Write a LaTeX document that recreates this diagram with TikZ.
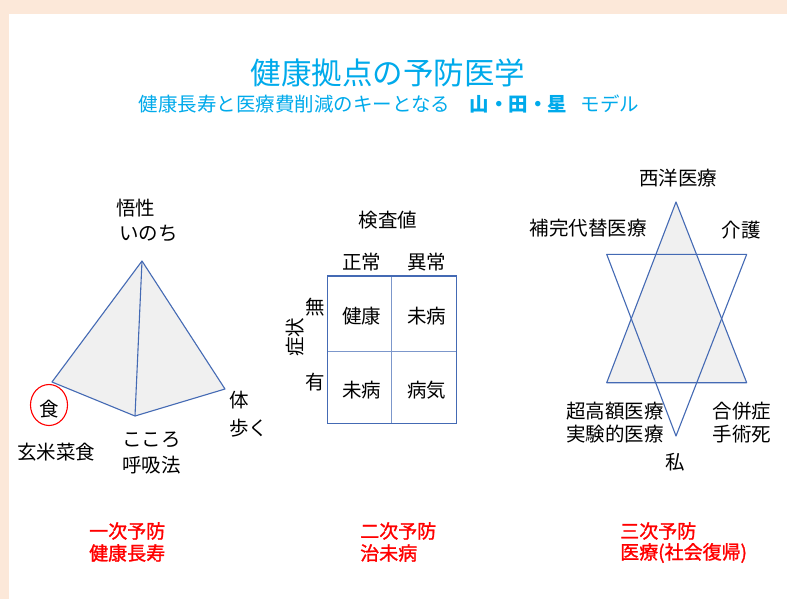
\documentclass[tikz,border=0pt]{standalone}
\usepackage{fontspec}
\setmainfont{Noto Sans CJK JP}
\newfontfamily\semibold[FakeBold=1.3]{Noto Sans CJK JP}
\definecolor{peach}{RGB}{252,232,217}
\definecolor{ttl}{RGB}{0,170,235}
\definecolor{edge}{RGB}{68,106,180}
\definecolor{fillg}{RGB}{240,240,240}
\definecolor{pure red}{RGB}{255,0,0}
\tikzset{
  lbl/.style={inner sep=0pt, font=\fontsize{19.5}{22}\selectfont},
  redlbl/.style={inner sep=0pt, anchor=west, text=pure red, font=\fontsize{19}{22}\selectfont\semibold},
  ln/.style={draw=edge, line width=1.1pt, line join=round},
}
\begin{document}
\begin{tikzpicture}[x=1pt,y=-1pt]
\useasboundingbox (0,0) rectangle (787,599);
\fill[white] (0,0) rectangle (787,599);
\fill[peach] (0,0) rectangle (787,14);
\fill[peach] (0,0) rectangle (9,599);

% titles
\node[inner sep=0pt, text=ttl, font=\fontsize{30.5}{34}\selectfont] (title) at (388,73) {健康拠点の予防医学};
\node[inner sep=0pt, text=ttl, font=\fontsize{19.5}{22}\selectfont] (sub) at (389,104) {健康長寿と医療費削減のキーとなる\hspace{1em}{\bfseries 山・田・星}\hspace{0.7em}モデル};

% pyramid
\coordinate (pa) at (142,261);
\coordinate (pl) at (52,382);
\coordinate (pb) at (135,416);
\coordinate (pr) at (225,389);
\fill[fillg] (pl) -- (pa) -- (pr) -- (pb) -- cycle;
\draw[ln] (pl) -- (pa) -- (pr) -- (pb) -- cycle;
\draw[ln] (pa) -- (pb);
\node[lbl, anchor=west] (goshou) at (116,208) {悟性};
\node[lbl, anchor=west] (inochi) at (119,233) {いのち};
\node[lbl] (shoku) at (49,409) {食};
\draw[draw=pure red, line width=1.1pt] (49,405) ellipse [x radius=18.5, y radius=20.5];
\node[lbl] (genmai) at (56,452) {玄米菜食};
\node[lbl, anchor=west] (kokoro) at (122,440) {こころ};
\node[lbl, anchor=west] (kokyu) at (122,465) {呼吸法};
\node[lbl, anchor=west] (karada) at (229,400) {体};
\node[lbl, anchor=west] (aruku) at (229,428) {歩く};

% grid
\draw[draw=edge!70, line width=0.9pt] (391.7,276) -- (391.7,423.5);
\draw[draw=edge!70, line width=0.9pt] (327.5,351.7) -- (456.7,351.7);
\draw[draw=edge, line width=1.3pt] (327.5,276) rectangle (456.7,423.5);
\node[lbl] (kensa) at (388,220) {検査値};
\node[lbl] (seijo) at (361.7,261.7) {正常};
\node[lbl] (ijo) at (426.7,261.7) {異常};
\node[lbl] (mu) at (315,307) {無};
\node[lbl] (yu) at (315,382) {有};
\node[lbl, rotate=90] (shojo) at (295,337) {症状};
\node[lbl] (c11) at (361.7,316) {健康};
\node[lbl] (c12) at (426.7,316) {未病};
\node[lbl] (c21) at (361.7,390) {未病};
\node[lbl] (c22) at (426.7,390) {病気};

% star
\coordinate (ua) at (676,202);
\coordinate (ul) at (606.7,382.7);
\coordinate (ur) at (746.7,382.7);
\coordinate (dl) at (606.7,254.3);
\coordinate (dr) at (746.7,254.3);
\coordinate (db) at (676,436);
\fill[fillg] (ua) -- (ur) -- (ul) -- cycle;
\draw[ln] (ua) -- (ur) -- (ul) -- cycle;
\draw[ln] (dl) -- (dr) -- (db) -- cycle;
\node[lbl] (seiyo) at (678,178) {西洋医療};
\node[lbl] (hokan) at (588,228) {補完代替医療};
\node[lbl] (kaigo) at (741,230) {介護};
\node[lbl] (chokogaku) at (615,410.7) {超高額医療};
\node[lbl] (jikken) at (615,434) {実験的医療};
\node[lbl] (gappei) at (742,410.7) {合併症};
\node[lbl] (shujutsu) at (742,434) {手術死};
\node[lbl] (watashi) at (675,462) {私};

% bottom red
\node[redlbl] (p1a) at (89,531) {一次予防};
\node[redlbl] (p1b) at (89,553) {健康長寿};
\node[redlbl] (p2a) at (360,531) {二次予防};
\node[redlbl] (p2b) at (360,553) {治未病};
\node[redlbl] (p3a) at (620,531) {三次予防};
\node[redlbl] (p3b) at (620,553) {医療(社会復帰)};
\end{tikzpicture}
\end{document}
